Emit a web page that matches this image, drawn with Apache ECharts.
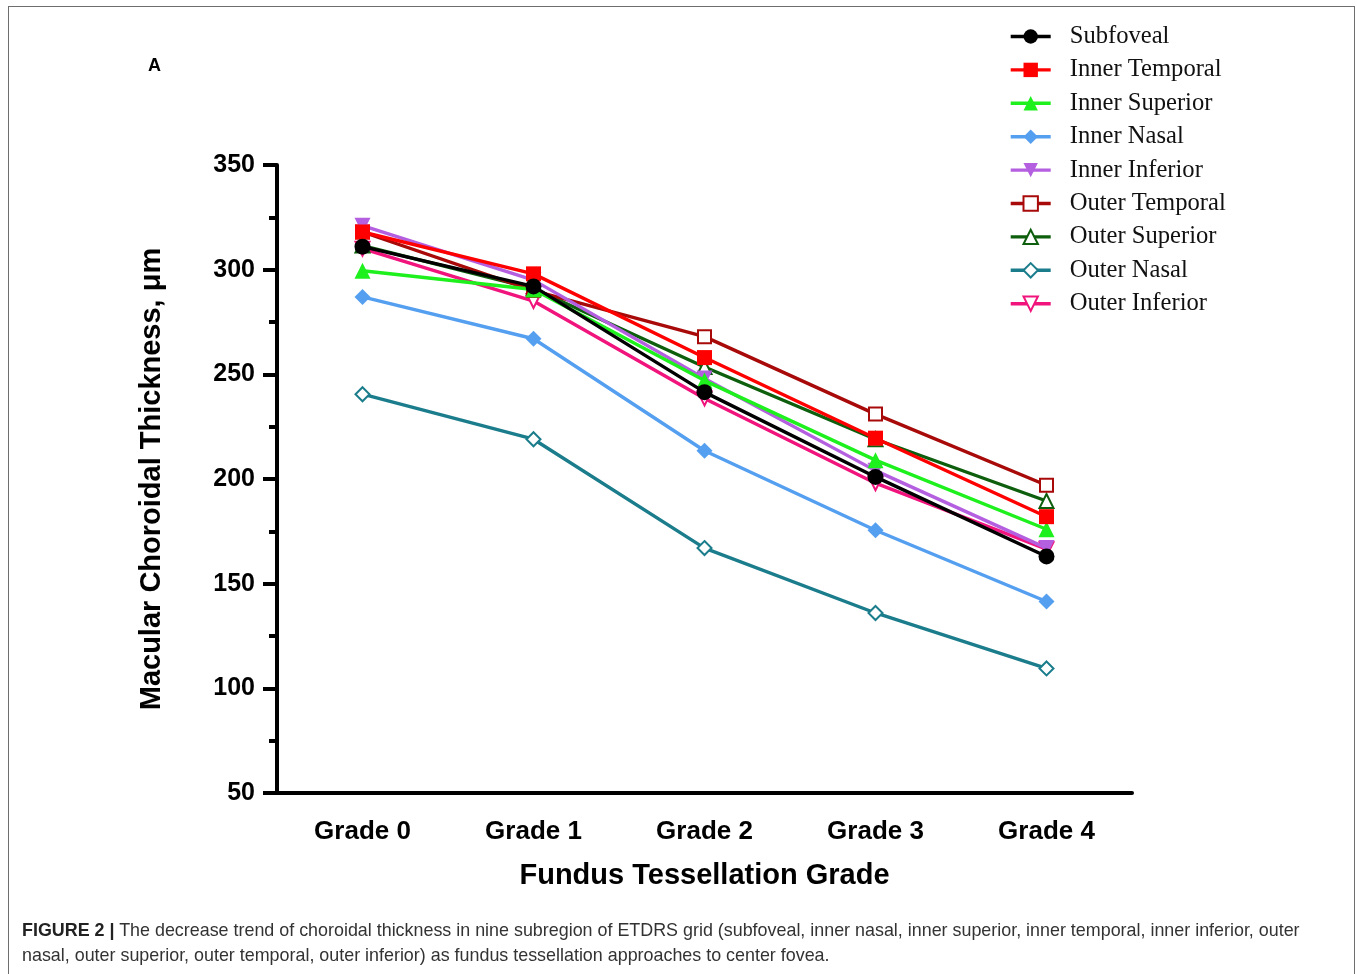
<!DOCTYPE html>
<html>
<head>
<meta charset="utf-8">
<script src="https://cdn.jsdelivr.net/npm/echarts@6/dist/echarts.min.js"></script>
<style>
  html, body { margin: 0; padding: 0; background: #fff; width: 1357px; height: 974px; overflow: hidden; }
  #frame { position: absolute; left: 8px; top: 6px; width: 1347px; height: 1000px; border: 1.5px solid #6e6e6e; box-sizing: border-box; }
  #chart { position: absolute; left: 0; top: 0; width: 1357px; height: 974px; }
  #caption { position: absolute; left: 22px; top: 918px; width: 1320px; font-family: "Liberation Sans", Arial, sans-serif; font-size: 17.9px; line-height: 25px; color: #333; white-space: nowrap; }
  #caption b { color: #222; }
</style>
</head>
<body>
<div id="frame"></div>
<div id="chart"></div>
<div id="caption"><b>FIGURE 2 |</b> The decrease trend of choroidal thickness in nine subregion of ETDRS grid (subfoveal, inner nasal, inner superior, inner temporal, inner inferior, outer<br>nasal, outer superior, outer temporal, outer inferior) as fundus tessellation approaches to center fovea.</div>
<script>
// ---- data ----
const categories = ["Grade 0", "Grade 1", "Grade 2", "Grade 3", "Grade 4"];
const subfoveal     = [311, 292, 241.5, 201, 163];
const innerTemporal = [318, 298, 258, 219.5, 182];
const innerSuperior = [299.5, 290.5, 247, 209, 176];
const innerNasal    = [287, 267, 213.5, 175.5, 141.5];
const innerInferior = [321, 295, 248, 204, 167];
const outerTemporal = [318, 290, 268, 231, 197];
const outerSuperior = [311.5, 291, 253.5, 219, 189.5];
const outerNasal    = [240.5, 219, 167, 136, 109.5];
const outerInferior = [310, 285, 238.5, 198, 166.5];
const yTicks = [50, 100, 150, 200, 250, 300, 350];
const seriesNames = ["Subfoveal", "Inner Temporal", "Inner Superior", "Inner Nasal", "Inner Inferior",
                     "Outer Temporal", "Outer Superior", "Outer Nasal", "Outer Inferior"];

// ---- styles ----
const styles = [
  { data: subfoveal,     color: "#000000", symbol: "circle",        size: 16, rot: 0,   z: 12 },
  { data: innerTemporal, color: "#ff0000", symbol: "rect",          size: 15, rot: 0,   z: 11 },
  { data: innerSuperior, color: "#1ef01e", symbol: "triangle",      size: 16, rot: 0,   z: 10 },
  { data: innerNasal,    color: "#559ff0", symbol: "diamond",       size: 16, rot: 0,   z: 4 },
  { data: innerInferior, color: "#b45ee0", symbol: "triangle",      size: 16, rot: 180, z: 9 },
  { data: outerTemporal, color: "#a80a0a", symbol: "emptyRect",     size: 13, rot: 0,   z: 8 },
  { data: outerSuperior, color: "#0d5e0d", symbol: "emptyTriangle", size: 14, rot: 0,   z: 7 },
  { data: outerNasal,    color: "#1b7d8c", symbol: "emptyDiamond",  size: 14, rot: 0,   z: 3 },
  { data: outerInferior, color: "#f0147c", symbol: "emptyTriangle", size: 14, rot: 180, z: 6 }
];

const series = styles.map((s, i) => ({
  name: seriesNames[i],
  type: "line",
  data: s.data,
  symbol: s.symbol,
  symbolSize: s.size,
  symbolRotate: s.rot,
  z: s.z,
  lineStyle: { color: s.color, width: 3.4 },
  itemStyle: { color: s.color, borderColor: s.color, borderWidth: s.symbol.startsWith("empty") ? 2.6 : 0 },
  emphasis: { disabled: true }
}));

const chart = echarts.init(document.getElementById("chart"), null, { renderer: "canvas" });
chart.setOption({
  animation: false,
  backgroundColor: "transparent",
  grid: { left: 277, right: 225, top: 165, bottom: 181, containLabel: false },
  legend: {
    data: seriesNames,
    orient: "vertical",
    left: 1004,
    top: 19,
    itemWidth: 40,
    itemHeight: 18,
    itemGap: 8.4,
    selectedMode: false,
    lineStyle: { width: 3.4 },
    textStyle: { fontFamily: "Liberation Serif, Times New Roman, serif", fontSize: 24.6, color: "#111", lineHeight: 24, padding: [0, 0, 0, 14] }
  },
  graphic: [
    { type: "text", left: 148, top: 57, style: { text: "A", font: "bold 18px 'Liberation Sans', Arial, sans-serif", fill: "#000" } }
  ],
  xAxis: {
    type: "category",
    data: categories,
    boundaryGap: true,
    name: "Fundus Tessellation Grade",
    nameLocation: "middle",
    nameGap: 68,
    nameTextStyle: { fontFamily: "Liberation Sans, Arial, sans-serif", fontWeight: "bold", fontSize: 29, color: "#000" },
    axisLine: { lineStyle: { color: "#000", width: 4 } },
    axisTick: { alignWithLabel: true, length: 13, lineStyle: { color: "#000", width: 4 } },
    axisLabel: { margin: 26, fontFamily: "Liberation Sans, Arial, sans-serif", fontWeight: "bold", fontSize: 26, color: "#000" }
  },
  yAxis: {
    type: "value",
    min: 50,
    max: 350,
    interval: 50,
    name: "Macular Choroidal Thickness, μm",
    nameLocation: "middle",
    nameGap: 111,
    nameTextStyle: { fontFamily: "Liberation Sans, Arial, sans-serif", fontWeight: "bold", fontSize: 29, color: "#000" },
    axisLine: { show: true, lineStyle: { color: "#000", width: 4 } },
    axisTick: { show: true, length: 14, lineStyle: { color: "#000", width: 4 } },
    minorTick: { show: true, splitNumber: 2, length: 8, lineStyle: { color: "#000", width: 4 } },
    splitLine: { show: false },
    axisLabel: {
      margin: 22, fontFamily: "Liberation Sans, Arial, sans-serif", fontWeight: "bold", fontSize: 25, color: "#000",
      formatter: v => (yTicks.includes(v) ? String(v) : "")
    }
  },
  series: series
});
</script>
</body>
</html>
